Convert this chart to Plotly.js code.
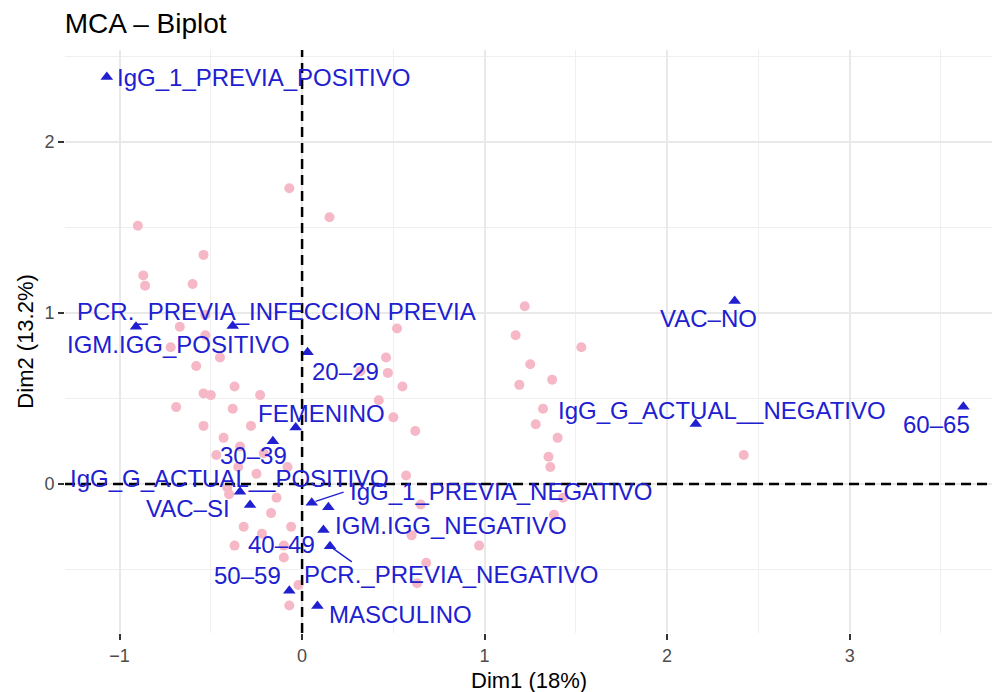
<!DOCTYPE html>
<html>
<head>
<meta charset="utf-8">
<script src="https://cdn.plot.ly/plotly-3.0.1.min.js"></script>
<style>html,body{margin:0;padding:0;background:#fff;}#chart{width:996px;height:692px;}</style>
</head>
<body>
<div id="chart"></div>
<script>
// Individuals (pink points)
const indX = [-0.07, 0.15, -0.90, -0.54, -0.87, -0.86, -0.60, -0.53, -0.67, -0.53, -0.72, -0.45, -0.58, -0.37, -0.54, -0.50, -0.23, -0.69, -0.38, -0.54, -0.28, -0.43, -0.34, -0.47, -0.21, -0.35, -0.08, -0.25, -0.41, -0.40, -0.14, -0.17, -0.32, -0.22, -0.06, -0.37, -0.10, -0.10, -0.02, -0.07, 0.52, 1.17, 0.46, 0.47, 0.32, 0.55, 0.42, 0.50, 0.62, 1.22, 1.53, 1.25, 1.19, 1.37, 1.32, 1.28, 1.40, 1.35, 1.36, 0.57, 1.43, 0.65, 1.38, 0.60, 0.97, 0.68, 0.63, 2.42];
const indY = [1.73, 1.56, 1.51, 1.34, 1.22, 1.16, 1.17, 0.99, 0.92, 0.87, 0.80, 0.74, 0.69, 0.57, 0.53, 0.52, 0.52, 0.45, 0.44, 0.34, 0.34, 0.27, 0.22, 0.17, 0.18, 0.10, 0.10, 0.06, -0.02, -0.06, -0.08, -0.17, -0.25, -0.29, -0.25, -0.36, -0.36, -0.43, -0.59, -0.71, 0.91, 0.87, 0.74, 0.65, 0.66, 0.57, 0.49, 0.39, 0.31, 1.04, 0.80, 0.70, 0.58, 0.61, 0.44, 0.35, 0.27, 0.16, 0.10, 0.05, -0.08, -0.12, -0.18, -0.30, -0.36, -0.46, -0.58, 0.17];

// Variable categories (blue triangles)
const catLabels = ["IgG_1_PREVIA_POSITIVO", "PCR._PREVIA_INFECCION PREVIA", "IGM.IGG_POSITIVO", "20–29", "FEMENINO", "30–39", "IgG_G_ACTUAL__POSITIVO", "VAC–SI", "IgG_1_PREVIA_NEGATIVO", "IGM.IGG_NEGATIVO", "40–49", "PCR._PREVIA_NEGATIVO", "50–59", "MASCULINO", "VAC–NO", "IgG_G_ACTUAL__NEGATIVO", "60–65"];
const catX = [-1.07, -0.91, -0.38, 0.03, -0.035, -0.16, -0.34, -0.285, 0.053, 0.117, 0.144, 0.153, -0.07, 0.084, 2.37, 2.157, 3.623];
const catY = [2.38, 0.92, 0.924, 0.77, 0.33, 0.25, -0.045, -0.123, -0.109, -0.269, -0.136, -0.364, -0.624, -0.713, 1.07, 0.351, 0.452];

// Label placement (screen px offsets from the triangle; dy positive = down)
const labAnchor = ["left","left","right","left","center","center","center","right","left","left","center","left","center","left","center","center","center"];
const labDx = [7.7, -61, 59, 2.7, 26, -19, -11, -18.3, 36.5, 10, -46.6, -28.3, -41.5, 9.4, -26, 26, -27.3];
const labDy = [0.7, -15, 18.3, 19, -14.6, 14.3, -13.4, 3.3, -11, -5, 36.7, 28.3, -15.7, 9, 17.7, -14, 17.3];
// segments (ggrepel) : index of label and tail offset
const segIdx = [8, 11];
const segDx = [33.3, 23.3];
const segDy = [-11, 16.6];

const FONT = "Liberation Sans, Arial, Helvetica, sans-serif";
const BLUE = "#2020d0";
const PINK = "#f6b8c6";

const traces = [
  {type: "scatter", mode: "markers", x: indX, y: indY,
   marker: {color: PINK, size: 10, line: {width: 0}}, hoverinfo: "skip"},
  {type: "scatter", mode: "markers", x: catX, y: catY,
   marker: {color: BLUE, size: 11, symbol: "triangle-up", line: {width: 0}}, hoverinfo: "skip"}
];

const annotations = catLabels.map((t, i) => ({
  x: catX[i], y: catY[i], xref: "x", yref: "y", text: t, showarrow: false,
  xanchor: labAnchor[i], yanchor: "middle", xshift: labDx[i], yshift: -labDy[i],
  font: {family: FONT, size: 24, color: BLUE}
}));
segIdx.forEach((k, j) => {
  annotations.push({
    x: catX[k], y: catY[k], xref: "x", yref: "y", text: "", showarrow: true,
    arrowhead: 0, arrowwidth: 1.4, arrowcolor: BLUE, standoff: 4,
    ax: segDx[j], ay: segDy[j]
  });
});

annotations.push({
  xref: "paper", yref: "paper", x: -0.043, y: 0.5, text: "Dim2 (13.2%)",
  textangle: -90, showarrow: false, xanchor: "center", yanchor: "middle",
  font: {family: FONT, size: 22, color: "#000"}
});
annotations.push({
  xref: "paper", yref: "paper", x: 0.5, y: -0.082, text: "Dim1 (18%)",
  showarrow: false, xanchor: "center", yanchor: "middle",
  font: {family: FONT, size: 22, color: "#000"}
});

const layout = {
  width: 996, height: 692,
  margin: {l: 65, r: 4, t: 50, b: 59},
  paper_bgcolor: "#fff", plot_bgcolor: "#fff",
  showlegend: false,
  title: {text: "MCA – Biplot", xref: "container", yref: "container", x: 0.065, y: 0.967,
          xanchor: "left", yanchor: "middle", font: {family: FONT, size: 28, color: "#000"}},
  xaxis: {range: [-1.299, 3.78], tickvals: [-1, 0, 1, 2, 3], zeroline: false,
          showgrid: true, gridcolor: "#e9e9e9", gridwidth: 2,
          ticks: "outside", ticklen: 6, tickwidth: 2, tickcolor: "#333",
          tickfont: {family: FONT, size: 18, color: "#4d4d4d"},
          minor: {tickvals: [-0.5, 0.5, 1.5, 2.5, 3.5], showgrid: true, gridcolor: "#efefef", gridwidth: 1, ticks: ""},
          showline: false, fixedrange: true},
  yaxis: {range: [-0.871, 2.538], tickvals: [0, 1, 2], zeroline: false,
          showgrid: true, gridcolor: "#e9e9e9", gridwidth: 2,
          ticks: "outside", ticklen: 6, tickwidth: 2, tickcolor: "#333",
          tickfont: {family: FONT, size: 18, color: "#4d4d4d"},
          minor: {tickvals: [-0.5, 0.5, 1.5, 2.5], showgrid: true, gridcolor: "#efefef", gridwidth: 1, ticks: ""},
          showline: false, fixedrange: true},
  shapes: [
    {type: "line", xref: "x", yref: "paper", x0: 0, x1: 0, y0: 0, y1: 1, layer: "above",
     line: {color: "#000", width: 2.5, dash: "10px,6px"}},
    {type: "line", xref: "paper", yref: "y", x0: 0, x1: 1, y0: 0, y1: 0, layer: "above",
     line: {color: "#000", width: 2.5, dash: "10px,6px"}}
  ],
  annotations: annotations
};

Plotly.newPlot("chart", traces, layout, {displayModeBar: false, staticPlot: true});
</script>
</body>
</html>
